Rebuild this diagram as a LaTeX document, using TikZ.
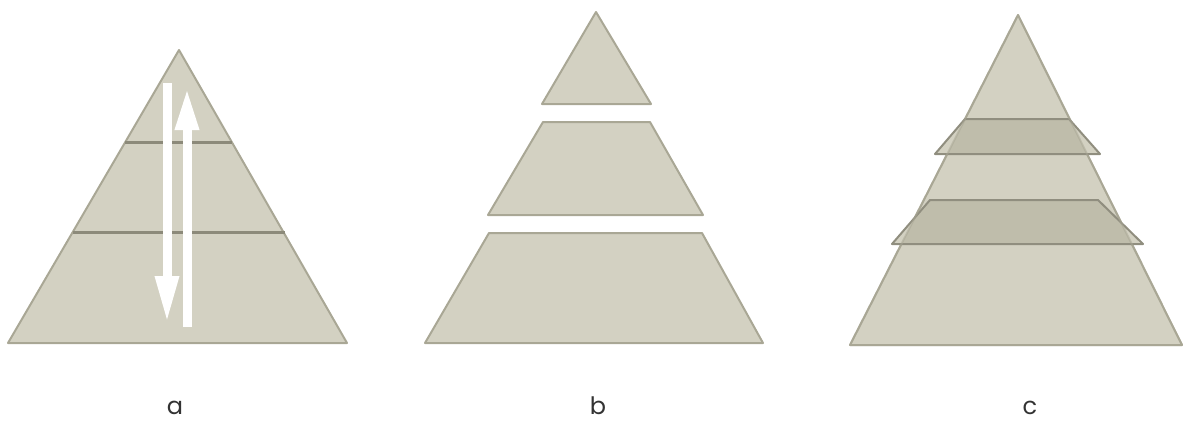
\documentclass[tikz,border=0pt]{standalone}
\usepackage{fontspec}
\newfontfamily\captionfont{Poppins}
\usepackage{tikz}
\usetikzlibrary{arrows.meta}
\definecolor{pyrfill}{HTML}{D3D1C2}
\definecolor{pyredge}{HTML}{A9A795}
\definecolor{pyrline}{HTML}{8C8A7A}
\definecolor{pyrshade}{HTML}{BFBDAB}
\tikzset{layer/.style={fill=pyrfill,draw=pyredge,line width=2pt,line join=round},
  lbl/.style={font=\captionfont\fontsize{24}{28}\selectfont,text=black!80,anchor=base,inner sep=0pt}}
\newcommand{\band}[6]{%
  \fill[pyrfill] (#1,#2) -- (#3,#2) -- (#4,#5) -- (#6,#5) -- cycle;
  \begin{scope}
    \clip (1018,15) -- (1182,345) -- (850,345) -- cycle;
    \fill[pyrshade] (#1,#2) -- (#3,#2) -- (#4,#5) -- (#6,#5) -- cycle;
  \end{scope}
  \draw[draw=pyredge!85!black,line width=2pt,line join=round] (#1,#2) -- (#3,#2) -- (#4,#5) -- (#6,#5) -- cycle;}

\begin{document}
\begin{tikzpicture}[x=1pt,y=-1pt,>=Triangle]
\useasboundingbox (0,0) rectangle (1184,423);
% a
\draw[layer] (179,50) -- (347,343) -- (8,343) -- cycle;
\draw[pyrline,line width=3pt] (125,142) -- (232,142);
\draw[pyrline,line width=3pt] (73,232) -- (285,232);
\draw[white,line width=9pt,-{Triangle[length=47pt,width=22pt]}] (167,83) -- (167,323);
\draw[white,line width=9pt,-{Triangle[length=42pt,width=22pt]}] (187,327) -- (187,88);
\node[lbl] (capa) at (175,414) {a};
% b
\draw[layer] (596,12) -- (651,104) -- (542,104) -- cycle;
\draw[layer] (543,122) -- (650,122) -- (703,215) -- (488,215) -- cycle;
\draw[layer] (489,233) -- (702,233) -- (763,343) -- (425,343) -- cycle;
\node[lbl] (capb) at (598,414) {b};
% c
\draw[layer] (1018,15) -- (1182,345) -- (850,345) -- cycle;
\band{965}{119}{1069}{1100}{154}{935}
\band{930}{200}{1098}{1143}{244}{892}
\draw[pyredge,opacity=0.5,line width=2pt,line join=round] (1018,15) -- (1182,345) -- (850,345) -- cycle;
\node[lbl] (capc) at (1030,414) {c};
\end{tikzpicture}
\end{document}
